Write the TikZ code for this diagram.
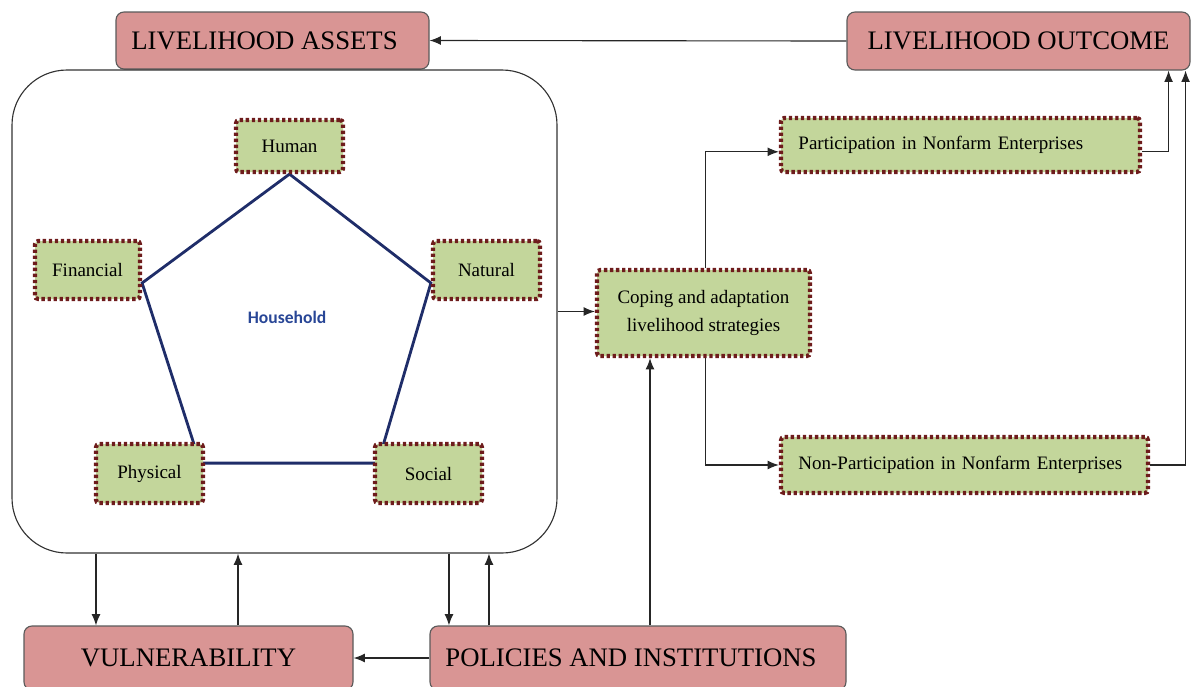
\documentclass[tikz,border=0pt]{standalone}
\usepackage{fontspec}
\setmainfont{Liberation Serif}
\newfontfamily\hhfont{Carlito}
\usetikzlibrary{arrows.meta,backgrounds,calc}
\definecolor{pinkfill}{RGB}{217,149,148}
\definecolor{pinkdraw}{RGB}{90,90,90}
\definecolor{greenfill}{RGB}{195,214,155}
\definecolor{dotred}{RGB}{110,28,28}
\definecolor{navy}{RGB}{31,45,105}
\definecolor{hhblue}{RGB}{40,70,150}
\tikzset{
  px/.style 2 args={minimum width=#1*0.025cm, minimum height=#2*0.025cm},
  bigbox/.style={draw=pinkdraw, line width=0.8pt, fill=pinkfill, rounded corners=0.2cm,
    inner sep=0pt, font=\fontsize{19}{22}\selectfont},
  assetbox/.style={fill=greenfill, draw=dotred, line width=3pt, dash pattern=on 2.4pt off 1.9pt,
    rounded corners=0.08cm, inner sep=0pt, font=\fontsize{13.5}{20}\selectfont},
  arr/.style={draw=black!85, line width=0.8pt, -{Latex[length=2.8mm,width=2.2mm]}},
  pent/.style={draw=navy, line width=2pt, line join=miter}
}
\begin{document}
\begin{tikzpicture}[x=0.025cm,y=-0.025cm]
\useasboundingbox (0,0) rectangle (1192,686);
% top boxes
\node[bigbox, px={313}{57}] (LA) at (272.5,40.5) {\hspace*{-0.4cm}LIVELIHOOD ASSETS};
\node[bigbox, px={343}{58}] (LO) at (1018.5,41) {LIVELIHOOD OUTCOME};
% big rounded container
\node[draw=black!80, line width=0.8pt, rounded corners=1.375cm, px={545}{483}] (Big) at (284.5,311.5) {};
% assets
\node[assetbox, px={107}{52}] (Human) at (289.5,146) {Human};
\node[assetbox, px={105}{58}] (Financial) at (87.5,270) {Financial};
\node[assetbox, px={107}{58}] (Natural) at (486.5,270) {Natural};
\node[assetbox, px={107}{59}] (Physical) at (149.5,473.5) {Physical};
\node[assetbox, px={107}{59}] (Social) at (428.5,473.5) {Social};
\node[font=\hhfont\bfseries\fontsize{12.5}{14}\selectfont, text=hhblue] (HH) at (287,317) {Household};
% pentagon
\begin{pgfonlayer}{background}
\draw[pent] (Human.south) -- ([yshift=-0.325cm]Financial.east)
  -- ([xshift=-0.125cm,yshift=0.26cm]Physical.east)
  -- ([xshift=0.125cm,yshift=0.26cm]Social.west)
  -- ([yshift=-0.325cm]Natural.west) -- cycle;
\end{pgfonlayer}
% strategies
\node[assetbox, px={213}{86}, align=center] (Coping) at (703.5,313) {Coping and adaptation\\livelihood strategies};
\node[assetbox, px={359}{54}, text width=8.1cm, align=left] (Part) at (960.5,145) {Participation in Nonfarm Enterprises};
\node[assetbox, px={367}{56}, text width=8.3cm, align=left] (NonPart) at (964.5,465) {Non-Participation in Nonfarm Enterprises};
% bottom boxes
\node[bigbox, px={329}{64}] (Vuln) at (188.5,658) {VULNERABILITY};
\node[bigbox, px={416}{64}] (Pol) at (638,658) {\hspace*{-0.35cm}POLICIES AND INSTITUTIONS};
% helper coordinates
\coordinate (v1) at ([xshift=-2.3125cm]Vuln.north);
\coordinate (v2) at ([xshift=1.2375cm]Vuln.north);
\coordinate (p1) at ([xshift=-4.725cm]Pol.north);
\coordinate (p2) at ([xshift=-3.725cm]Pol.north);
\coordinate (p3) at ([xshift=0.3cm]Pol.north);
\coordinate (o1) at ([xshift=-0.55cm]LO.south east);
\coordinate (o2) at ([xshift=-0.125cm]LO.south east);
% connectors
\draw[arr] (LO.west) -- (LA.east);
\draw[arr] (Big.east) -- (Big.east -| Coping.west);
\draw[arr] ([xshift=0.06cm]Coping.north) |- ([yshift=-0.17cm]Part.west);
\draw[arr] ([xshift=0.06cm]Coping.south) |- (NonPart.west);
\draw[arr] ([yshift=-0.17cm]Part.east) -| (o1);
\draw[arr] (NonPart.east) -| (o2);
\draw[arr] (v1 |- Big.south) -- (v1);
\draw[arr] (v2) -- (v2 |- Big.south);
\draw[arr] (p1 |- Big.south) -- (p1);
\draw[arr] (p2) -- (p2 |- Big.south);
\draw[arr] (p3) -- (p3 |- Coping.south);
\draw[arr] (Pol.west) -- (Vuln.east);
\end{tikzpicture}
\end{document}
